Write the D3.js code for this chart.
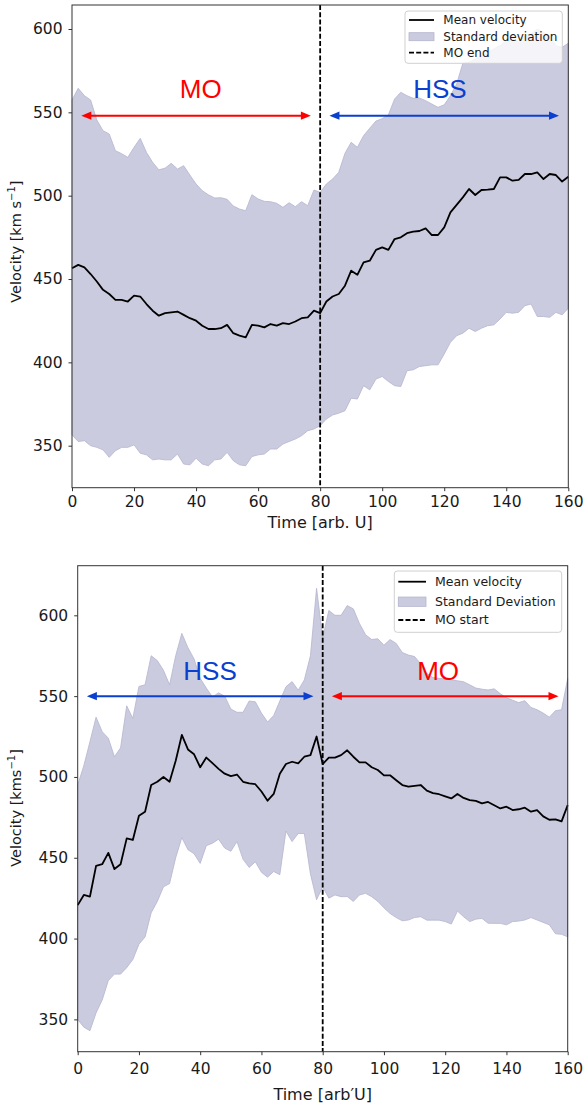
<!DOCTYPE html>
<html>
<head>
<meta charset="utf-8">
<script src="https://cdn.jsdelivr.net/npm/d3@7"></script>
<style>
body{margin:0;background:#fff}
svg{display:block;font-family:"DejaVu Sans",sans-serif}
</style>
</head>
<body>
<svg width="585" height="1106"></svg>
<script>
// sample times (arb. units)
const time = [0,2,4,6,8,10,12,14,16,18,20,22,24,26,28,30,32,34,36,38,40,42,44,46,48,50,52,54,56,58,60,62,64,66,68,70,72,74,76,78,80,82,84,86,88,90,92,94,96,98,100,102,104,106,108,110,112,114,116,118,120,122,124,126,128,130,132,134,136,138,140,142,144,146,148,150,152,154,156,158,160];

// top panel: MO -> HSS
const topMean = [456.5,458.5,457,453,448.5,443.5,441,437.5,437.5,436.5,440,439.5,435,431,428,429.5,430,430.5,428.5,426.5,425,422,420,420,420.5,422.5,417.5,416,415,422.5,422,421,423,422,423.5,423,424.5,426.5,427,431,429.5,436.5,439.5,441,446,455,452.5,460,461,467.5,469,467.5,474,475,477.5,478.4,478.8,480.4,476.4,476.4,481,490,494.5,499,504,500.4,503.4,503.6,504,511,511,509,509.5,513,513,514,510,513,512.4,508.5,511.4];
const topUpper = [557.4,564.4,560,557.4,545.4,539,537,527,525.2,523,529,534.4,526,520,515.5,516.5,519.4,516,518,512.4,507,503,500.5,498.6,498.8,497.8,493.8,492,491,500.6,498,496.6,496.4,495.4,493,495.8,493.4,496.4,494,503.4,502,507,510,514,525.4,532,529,536,540.5,544.8,546.2,548.5,558,562,560,558.4,558.6,557,555,553,554.5,560,567,579.4,580,582,584,586,588,590,593,595,592,596,597,600,598,596,590,589,591.4];
const topLower = [356.5,352.5,353,350,349,347.5,343,347,349,349,350.5,345.5,344.5,341.5,342,341.5,341.5,345,339,338.5,342.5,339,338,341.5,342,346,341,338.5,338,343.5,344.5,345,348,348,351,352.5,354,356,359,360,362,366,368.4,369.5,371,378.5,378,386,383.5,390,391.5,388.5,386,385.5,395,395.5,397.5,398,398.5,398.5,405,412,416,417.5,420.5,418.5,420.5,422,422.5,426,430,429.5,430,434,435,427.5,427.5,427,430,428.5,432.5];

// bottom panel: HSS -> MO
const botMean = [420.7,427,426,445,446,453,443,446,462,461,476,478.5,495,497,500,497,510,526,517,514,506,512,508.5,505,502,500.5,501.5,497,496,495.5,491,485.3,489.5,502,508,509.4,508.4,512.5,513.5,525,508,512,512,513.5,516.5,512.5,509,509,506,504.3,501,501,498,495,494,494.5,495,491.5,490,489.3,488,486.7,489.5,487,485.7,485.2,483.6,484.5,482.5,480.5,481.6,479.5,480,481,478.5,479.5,475.6,473.5,473.8,472.5,482.6];
const botUpper = [495,507,521.8,537,528,524,512.5,518,544,536.2,556,557,575,572,566,557,575,588.8,580,573,561,555,549.5,552,550,542,540,540,547,546.5,539.5,534,538,547,555.8,559,553.7,560,575,616.7,586,603,600,600,606,604,595,588,585,585.5,581.5,585,582.6,577,575.4,574.5,570,564,561.5,561,560.5,560,559.5,558.9,557,555,554.3,553.8,554.5,551.5,549,547.5,546,547.2,543,541.6,539.5,537,541,541.6,561];
const botLower = [350,345.2,343,354,362,374,378,378,382,387,396.5,401,416,423,432,434,450,462.5,455,452.5,446.5,457.5,459,461.5,456,454,460,449,444,447.5,441,438,441.5,439.5,466.5,460,465,465,440,424,432,425,427,425.9,426,423,427,428,425.9,423,419,415.5,413,411,411.5,413,413.5,411.4,411.4,411.4,410.5,409,417,413.5,410.5,412,412.5,409.5,409.4,409.4,408.5,410.5,410.8,411.5,413,411.5,410,408.5,403,402.6,401.1];

const xTicks = [0,20,40,60,80,100,120,140,160];
const yTicks = [350,400,450,500,550,600];
const boundary = 80;
const leftSpan = [3,77];
const rightSpan = [83,157];

const RED = "#ff0000", BLUE = "#0a3fd0";

var svg = d3.select("svg");

function panel(o){
    let x = d3.scaleLinear().domain([0,160]).range([o.left,o.right]);
    let y = d3.scaleLinear().domain(o.yDomain).range([o.bottom,o.top]);
    let g = svg.append("g");

    let pts = time.map((t,i) => ({t:t, m:o.mean[i], hi:o.upper[i], lo:o.lower[i]}));

    g.append("path")
        .datum(pts)
        .attr("d", d3.area().x(d => x(d.t)).y0(d => y(d.lo)).y1(d => y(d.hi)))
        .attr("fill","#cbcbdf")
        .attr("stroke","#b4b4cf")
        .attr("stroke-width",0.8);

    g.append("path")
        .datum(pts)
        .attr("d", d3.line().x(d => x(d.t)).y(d => y(d.m)))
        .attr("fill","none")
        .attr("stroke","#000")
        .attr("stroke-width",1.8)
        .attr("stroke-linejoin","round");

    g.append("line")
        .attr("x1",x(boundary)).attr("x2",x(boundary))
        .attr("y1",o.top).attr("y2",o.bottom)
        .attr("stroke","#000").attr("stroke-width",1.8)
        .attr("stroke-dasharray","5,2.2");

    // double headed arrows
    function arrow(span,col){
        let x1 = x(span[0]), x2 = x(span[1]), yy = y(o.arrowY);
        g.append("line").attr("x1",x1+6).attr("x2",x2-6)
            .attr("y1",yy).attr("y2",yy)
            .attr("stroke",col).attr("stroke-width",2);
        g.append("path").attr("d",`M${x1},${yy}L${x1+10},${yy-4.2}L${x1+10},${yy+4.2}Z`).attr("fill",col);
        g.append("path").attr("d",`M${x2},${yy}L${x2-10},${yy-4.2}L${x2-10},${yy+4.2}Z`).attr("fill",col);
    }
    arrow(leftSpan,o.leftColor);
    arrow(rightSpan,o.rightColor);

    g.append("text").attr("x",x(o.leftTextX)).attr("y",y(o.textY))
        .attr("text-anchor","middle").attr("fill",o.leftColor)
        .style("font-family","'Liberation Sans',Arial,sans-serif").style("font-size","26px")
        .text(o.leftText);
    g.append("text").attr("x",x(o.rightTextX)).attr("y",y(o.textY))
        .attr("text-anchor","middle").attr("fill",o.rightColor)
        .style("font-family","'Liberation Sans',Arial,sans-serif").style("font-size","26px")
        .text(o.rightText);

    // axes
    let xa = g.append("g")
        .attr("transform","translate(0,"+o.bottom+")")
        .call(d3.axisBottom(x).tickValues(xTicks).tickSize(3.5).tickSizeOuter(0).tickPadding(o.xPad));
    let ya = g.append("g")
        .attr("transform","translate("+o.left+",0)")
        .call(d3.axisLeft(y).tickValues(yTicks).tickSize(3.5).tickSizeOuter(0).tickPadding(6));
    [xa,ya].forEach(a => {
        a.select(".domain").remove();
        a.selectAll("text").style("font-size","15.5px").style("font-family","'DejaVu Sans',sans-serif").attr("fill","#1a1a1a");
        a.selectAll("line").attr("stroke","#333");
    });

    g.append("rect")
        .attr("x",o.left).attr("y",o.top)
        .attr("width",o.right-o.left).attr("height",o.bottom-o.top)
        .attr("fill","none").attr("stroke","#333").attr("stroke-width",1);

    g.append("text")
        .attr("x",(o.left+o.right)/2).attr("y",o.xLabelY)
        .attr("text-anchor","middle").style("font-size","16px").attr("fill","#1a1a1a")
        .text(o.xLabel);

    let yl = g.append("text")
        .attr("transform","translate(21,"+o.yLabelC+") rotate(-90)")
        .attr("text-anchor","middle").style("font-size","14.5px").attr("fill","#1a1a1a");
    yl.append("tspan").text(o.yLabel);
    yl.append("tspan").attr("dy",-6).style("font-size","10px").text("\u22121");
    yl.append("tspan").attr("dy",6).text("]");

    // legend
    let L = o.legend;
    let lg = g.append("g").attr("transform","translate("+L.x+","+L.y+")");
    lg.append("rect").attr("width",L.w).attr("height",L.h).attr("rx",3)
        .attr("fill","#fff").attr("fill-opacity",0.8)
        .attr("stroke","#d0d0d0").attr("stroke-width",1);
    lg.append("line").attr("x1",4).attr("x2",4+L.hw).attr("y1",L.rows[0]).attr("y2",L.rows[0])
        .attr("stroke","#000").attr("stroke-width",1.8);
    lg.append("rect").attr("x",4).attr("y",L.rows[1]-L.ph/2).attr("width",L.hw).attr("height",L.ph)
        .attr("fill","#cbcbdf").attr("stroke","#b4b4cf").attr("stroke-width",0.8);
    lg.append("line").attr("x1",4).attr("x2",4+L.hw).attr("y1",L.rows[2]).attr("y2",L.rows[2])
        .attr("stroke","#000").attr("stroke-width",1.8).attr("stroke-dasharray","5,2.2");
    L.labels.forEach((s,i) => {
        lg.append("text").attr("x",L.tx).attr("y",L.rows[i]).attr("dy","0.35em")
            .style("font-size",L.fs).attr("fill","#1a1a1a").text(s);
    });
}

panel({
    left:72, right:568.3, top:5, bottom:487.7,
    yDomain:[324.8,614.4],
    mean:topMean, upper:topUpper, lower:topLower,
    arrowY:548, textY:558.6,
    leftColor:RED, rightColor:BLUE, leftText:"MO", rightText:"HSS",
    leftTextX:41.5, rightTextX:118.6,
    xPad:5, xLabel:"Time [arb. U]", xLabelY:527.5,
    yLabel:"Velocity [km s", yLabelC:241.7,
    legend:{x:405, y:11, w:157.3, h:52.3, rows:[9,25.7,41.7], hw:25, ph:8, tx:38.3, fs:"12px",
        labels:["Mean velocity","Standard deviation","MO end"]}
});

panel({
    left:77.7, right:567.7, top:565.7, bottom:1051.7,
    yDomain:[330,630.7],
    mean:botMean, upper:botUpper, lower:botLower,
    arrowY:550, textY:560,
    leftColor:BLUE, rightColor:RED, leftText:"HSS", rightText:"MO",
    leftTextX:43.2, rightTextX:117.7,
    xPad:8, xLabel:"Time [arb\u2032U]", xLabelY:1100,
    yLabel:"Velocity [kms", yLabelC:808,
    legend:{x:394.3, y:571, w:167.4, h:61.3, rows:[10.7,30.7,49], hw:27.7, ph:9.3, tx:40.7, fs:"12.5px",
        labels:["Mean velocity","Standard Deviation","MO start"]}
});
</script>
</body>
</html>
